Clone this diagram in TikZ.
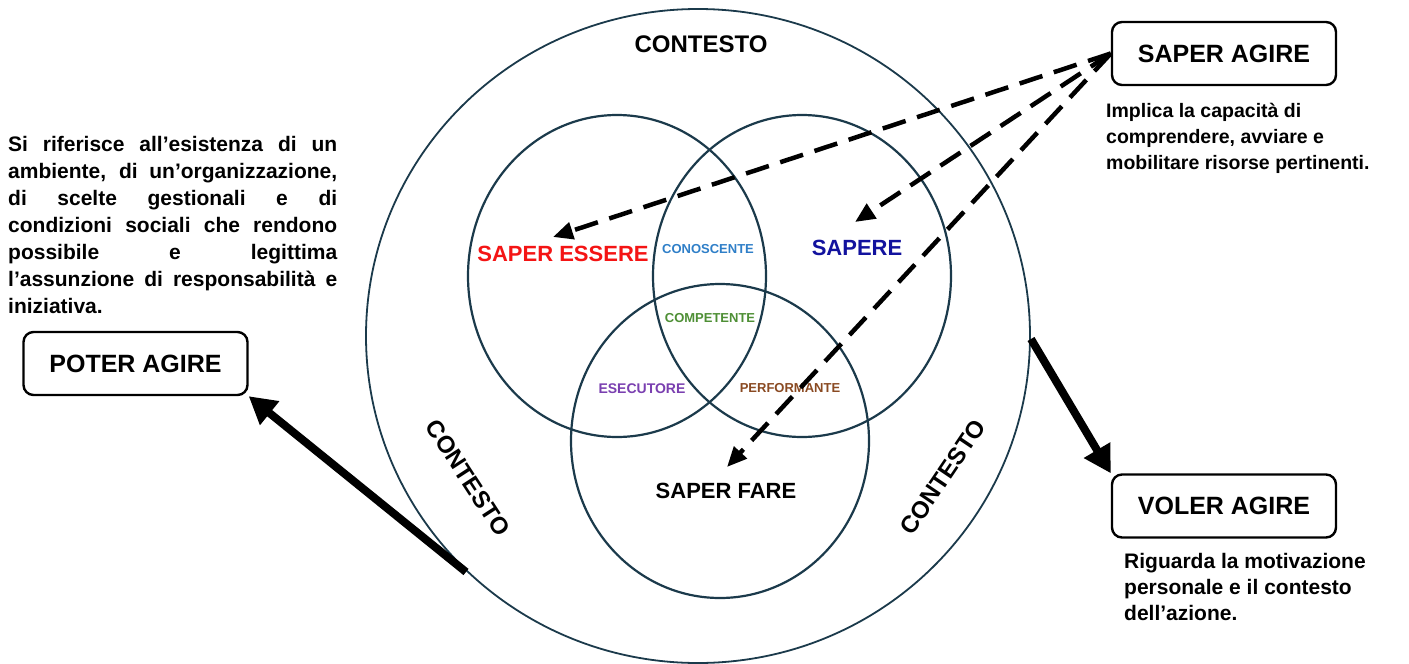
\documentclass[tikz,border=0pt]{standalone}
\usepackage{fontspec}
\setmainfont{Liberation Sans}
\usetikzlibrary{arrows.meta}
\definecolor{ring}{HTML}{1B3A4B}
\definecolor{cred}{HTML}{F41414}
\definecolor{cblue}{HTML}{12129E}
\definecolor{clight}{HTML}{2F7FC8}
\definecolor{cgreen}{HTML}{4E8F35}
\definecolor{cpurple}{HTML}{7A3FB0}
\definecolor{cbrown}{HTML}{8A4A22}
\tikzset{
  ringline/.style={draw=ring, line width=2.2pt},
  outerline/.style={draw=ring, line width=1.8pt},
  agirebox/.style={draw=black, line width=2.4pt, rounded corners=10pt, minimum width=224pt, minimum height=63pt, inner sep=0pt, font=\bfseries\fontsize{25}{30}\selectfont},
  dasharrow/.style={draw=black, line width=4.5pt, dash pattern=on 24pt off 12pt, -{Triangle[length=20pt,width=17pt]}},
  bigarrow/.style={draw=black, line width=8pt, -{Triangle[length=27pt,width=29pt]}},
  lbl/.style={inner sep=0pt, font=\bfseries\fontsize{22}{26}\selectfont},
  small/.style={inner sep=0pt, font=\bfseries\fontsize{13}{15}\selectfont},
  ctx/.style={inner sep=0pt, font=\bfseries\fontsize{24}{28}\selectfont},
}
\begin{document}
\begin{tikzpicture}[x=1pt,y=-1pt]
\useasboundingbox (0,0) rectangle (1409,664);
\fill[white] (0,0) rectangle (1409,664);
% circles
\draw[outerline] (698,336) ellipse [x radius=332, y radius=327];
\draw[ringline] (617,276) ellipse [x radius=149, y radius=161];
\draw[ringline] (802,276) ellipse [x radius=149, y radius=161];
\draw[ringline] (720,441) ellipse [x radius=149, y radius=157];
% context labels
\node[ctx] (c1) at (701,44) {CONTESTO};
\node[ctx, rotate=-57] (c2) at (468,478) {CONTESTO};
\node[ctx, rotate=56] (c3) at (943,477) {CONTESTO};
% circle labels
\node[lbl, text=cred] (se) at (563,254) {SAPER ESSERE};
\node[lbl, text=cblue] (sp) at (857,248) {SAPERE};
\node[lbl] (sf) at (726,491) {SAPER FARE};
\node[small, text=clight] (co) at (708,249) {CONOSCENTE};
\node[small, text=cgreen] (cm) at (710,318) {COMPETENTE};
\node[small, text=cpurple, font=\bfseries\fontsize{14}{16}\selectfont] (es) at (642,389) {ESECUTORE};
\node[small, text=cbrown] (pf) at (790,388) {PERFORMANTE};
% boxes
\node[agirebox] (sa) at (1224,53.5) {SAPER AGIRE};
\node[agirebox] (pa) at (135.5,363.5) {POTER AGIRE};
\node[agirebox] (va) at (1224,506) {VOLER AGIRE};
% texts
\node[anchor=north west, inner sep=0pt, align=left, font=\bfseries\fontsize{21}{27}\selectfont] (ptxt) at (8,136)
{\makebox[329pt][s]{Si riferisce all’esistenza di un}\\
 \makebox[329pt][s]{ambiente, di un’organizzazione,}\\
 \makebox[329pt][s]{di scelte gestionali e di}\\
 \makebox[329pt][s]{condizioni sociali che rendono}\\
 \makebox[329pt][s]{possibile e legittima}\\
 \makebox[329pt][s]{l’assunzione di responsabilità e}\\
 iniziativa.};
\node[anchor=north west, inner sep=0pt, align=left, font=\bfseries\fontsize{19.5}{26}\selectfont] (stxt) at (1106,103)
{Implica la capacità di\\comprendere, avviare e\\mobilitare risorse pertinenti.};
\node[anchor=north west, inner sep=0pt, align=left, font=\bfseries\fontsize{21}{26}\selectfont] (vtxt) at (1124,553)
{Riguarda la motivazione\\personale e il contesto\\dell’azione.};
% dashed arrows
\coordinate (t1) at (553,237);
\coordinate (t2) at (855,222);
\coordinate (t3) at (727,467);
\draw[dasharrow] (sa.west) -- (t1);
\draw[dasharrow] (sa.west) -- (t2);
\draw[dasharrow] (sa.west) -- (t3);
% solid arrows
\coordinate (p0) at (466,572);
\coordinate (v0) at (1031,339);
\draw[bigarrow] (p0) -- (pa.south east);
\draw[bigarrow] (v0) -- (va.north west);
\end{tikzpicture}
\end{document}
